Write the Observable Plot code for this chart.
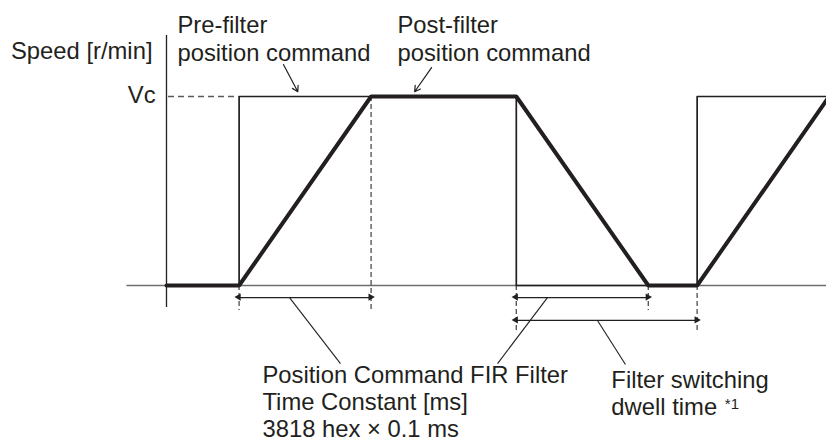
<!DOCTYPE html>
<html><head><meta charset="utf-8">
<script src="https://cdn.jsdelivr.net/npm/d3@7"></script>
<script src="https://cdn.jsdelivr.net/npm/@observablehq/plot@0.6"></script>
<style>html,body{margin:0;padding:0;background:#fff}#chart svg{display:block}</style>
</head><body><div id="chart"></div>
<script>
// Time in schematic units (FIR time constant = 10), speed as a fraction of Vc
const preTime   = [0, 5.5, 5.5, 26.5, 26.5, 40.2, 40.2, 50.2];
const preSpeed  = [0, 0, 1, 1, 0, 0, 1, 1];
const postTime  = [0, 5.5, 15.5, 26.5, 36.5, 40.2, 50.2];
const postSpeed = [0, 0, 1, 1, 0, 0, 1];

// dashed guides at event times
const guideTime   = [5.5, 15.5, 26.5, 36.5, 40.2];
const guideTop    = [0, 1, 0, 0, 0];
const guideBottom = [-0.132, -0.132, -0.238, -0.132, -0.238];

// dimension spans (double arrows)
const spanStart = [5.5, 26.5, 26.5];
const spanEnd   = [15.5, 36.5, 40.2];
const spanLevel = [-0.064, -0.064, -0.185];

// leader lines from spans to labels
const leaderT1 = [9.32, 28.86, 32.65];
const leaderV1 = [-0.064, -0.064, -0.185];
const leaderT2 = [13.18, 25.08, 34.77];
const leaderV2 = [-0.413, -0.413, -0.418];

// top pointer arrows
const pointerT1 = [8.86, 20.08];
const pointerV1 = [1.169, 1.153];
const pointerT2 = [9.95, 18.8];
const pointerV2 = [1.025, 1.025];

// labels
const labelText = [
  "Speed [r/min]",
  "Vc",
  "Pre-filter\nposition command",
  "Post-filter\nposition command",
  "Position Command FIR Filter\nTime Constant [ms]\n3818 hex × 0.1 ms",
  "Filter switching\ndwell time"
];
const labelT = [-1.06, -0.83, 0.83, 17.5, 7.27, 33.7];
const labelV = [1.196, 0.963, 1.19, 1.19, -0.80, -0.683];
const labelAnchor = ["end", "end", "start", "start", "start", "start"];
const labelLH = [1, 1, 1.18, 1.18, 1.12, 1.13];
const noteText = ["*1"];
const noteT = [42.3];
const noteV = [-0.655];

const ink = "#231f20";
const grey = "#58595b";

const pre = preTime.map((t, i) => ({t, v: preSpeed[i]}));
const post = postTime.map((t, i) => ({t, v: postSpeed[i]}));
const guides = guideTime.map((t, i) => ({t, top: guideTop[i], bottom: guideBottom[i]}));
const spans = spanStart.map((s, i) => ({s, e: spanEnd[i], v: spanLevel[i]}));
const heads = spans.flatMap(d => [{t: d.s, v: d.v, rot: -90, dx: 4.3}, {t: d.e, v: d.v, rot: 90, dx: -4.3}]);
const leaders = leaderT1.map((t, i) => ({t1: t, v1: leaderV1[i], t2: leaderT2[i], v2: leaderV2[i]}));
const pointers = pointerT1.map((t, i) => ({t1: t, v1: pointerV1[i], t2: pointerT2[i], v2: pointerV2[i]}));
const labels = labelText.map((text, i) => ({text, t: labelT[i], v: labelV[i], a: labelAnchor[i], lh: labelLH[i]}));
const notes = noteText.map((text, i) => ({text, t: noteT[i], v: noteV[i]}));

const textMarks = labels.map(d => Plot.text([d], {
  x: "t", y: "v", text: "text", textAnchor: d.a, lineAnchor: "bottom",
  lineHeight: d.lh, fontSize: 23.8, fill: ink
}));

const chart = Plot.plot({
  width: 826, height: 443,
  margin: 0,
  x: {domain: [0, 50], range: [166, 826]},
  y: {domain: [0, 1], range: [285, 96]},
  axis: null,
  style: {fontFamily: "'Liberation Sans', Arial, sans-serif", background: "#fff", color: ink},
  marks: [
    // axes
    Plot.ruleY([0], {x1: -3, x2: 51, stroke: "#6d6e71", strokeWidth: 1.5}),
    Plot.ruleX([0], {y1: -0.116, y2: 1.323, stroke: ink, strokeWidth: 1.3}),
    // Vc dashed
    Plot.ruleY([1], {x1: 0.15, x2: 5.5, stroke: grey, strokeWidth: 1.3, strokeDasharray: "6,4"}),
    // dashed guides
    Plot.ruleX(guides, {x: "t", y1: "top", y2: "bottom", stroke: grey, strokeWidth: 1.4, strokeDasharray: "5,3"}),
    // pre-filter command
    Plot.line(pre, {x: "t", y: "v", stroke: ink, strokeWidth: 1.7, curve: "linear"}),
    // post-filter command
    Plot.line(post, {x: "t", y: "v", stroke: ink, strokeWidth: 4, strokeLinejoin: "miter", curve: "linear"}),
    // spans
    Plot.link(spans, {x1: "s", x2: "e", y1: "v", y2: "v", stroke: ink, strokeWidth: 1.2}),
    Plot.dot(heads, {x: "t", y: "v", symbol: "triangle", r: 2.7, fill: ink, stroke: null, rotate: "rot", dx: "dx"}),
    // leaders
    Plot.link(leaders, {x1: "t1", y1: "v1", x2: "t2", y2: "v2", stroke: ink, strokeWidth: 1.1}),
    Plot.arrow(pointers, {x1: "t1", y1: "v1", x2: "t2", y2: "v2", stroke: ink, strokeWidth: 1.2, headLength: 8}),
    ...textMarks,
    Plot.text(notes, {x: "t", y: "v", text: "text", textAnchor: "start", lineAnchor: "bottom", fontSize: 15, fill: ink})
  ]
});
document.getElementById("chart").appendChild(chart);
</script>
</body></html>
